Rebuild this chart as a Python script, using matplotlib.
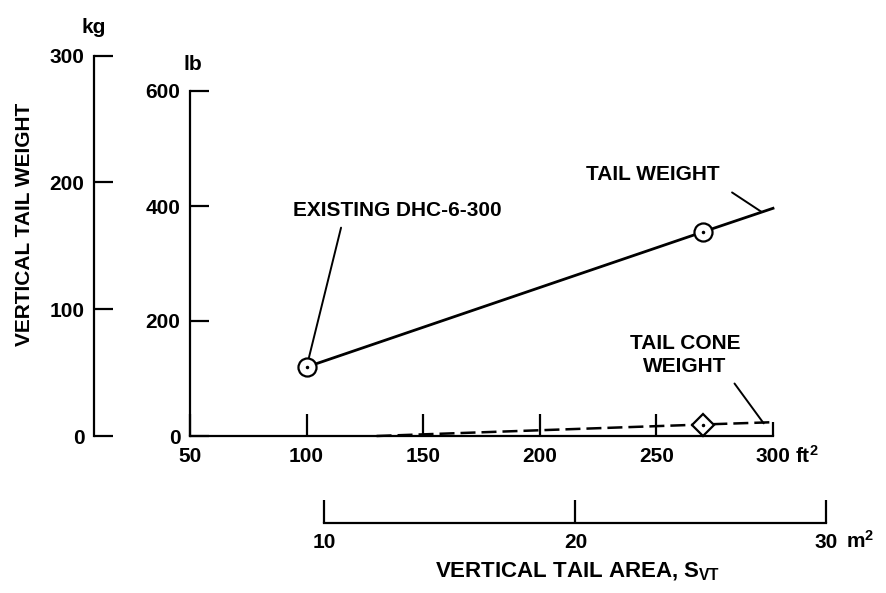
import matplotlib.pyplot as plt

plt.rcParams['font.family'] = ['Liberation Sans', 'DejaVu Sans']
plt.rcParams['font.size'] = 15
plt.rcParams['font.weight'] = 'bold'
plt.rcParams['mathtext.fontset'] = 'custom'
plt.rcParams['mathtext.rm'] = 'Liberation Sans:bold'
plt.rcParams['mathtext.it'] = 'Liberation Sans:bold'
plt.rcParams['mathtext.default'] = 'regular'

# vertical tail area (ft^2) vs weight (lb)
tail_area = [100, 270, 300]
tail_weight = [120, 355, 396]
tail_pts_area = [100, 270]
tail_pts_weight = [120, 355]

cone_area = [130, 270, 300]
cone_weight = [0, 20, 24]
cone_pts_area = [270]
cone_pts_weight = [20]

ft_ticks = [50, 100, 150, 200, 250]
lb_ticks = [0, 200, 400, 600]
kg_ticks = [0, 100, 200, 300]
m2_ticks = [10, 20, 30]

FT2_PER_M2 = 10.7639
LB_PER_KG = 2.20462

W, H = 886, 593
left, right = 190, 773      # pixel x of 50 and 300 ft^2
bottom, top = 436, 91       # pixel y of 0 and 600 lb


def fx(px):
    return px / W


def fy(py):
    return 1 - py / H


def ft_px(a):
    return left + (a - 50) / 250 * (right - left)


lw_axis = 1.6
fig = plt.figure(figsize=(8.86, 5.93), dpi=100)

# main axes (ft^2 / lb)
ax = fig.add_axes([fx(left), fy(bottom), (right - left) / W, (bottom - top) / H])
ax.set_xlim(50, 300)
ax.set_ylim(0, 600)
ax.patch.set_visible(False)
for s in ['top', 'right']:
    ax.spines[s].set_visible(False)
for s in ['left', 'bottom']:
    ax.spines[s].set_linewidth(lw_axis)
ax.set_xticks(ft_ticks)
ax.set_xticks([300], ['300'], minor=True)
ax.set_yticks(lb_ticks)
ax.tick_params(axis='x', which='major', direction='in', length=16, width=lw_axis, pad=8)
ax.tick_params(axis='x', which='minor', direction='in', length=10, width=lw_axis, pad=8,
               labelsize=15)
ax.tick_params(axis='y', direction='in', length=14, width=lw_axis, pad=7)
ax.annotate('ft$^2$', xy=(300, 0), xycoords=('data', 'axes fraction'),
            xytext=(16, -19.5), textcoords='offset points', ha='left', va='baseline')
ax.annotate('lb', xy=(0, 1), xycoords='axes fraction', xytext=(2, 19),
            textcoords='offset points', ha='center', va='center')

ax.plot(tail_area, tail_weight, color='k', lw=2, clip_on=False)
ax.plot(tail_pts_area, tail_pts_weight, 'o', ms=13, mfc='white', mec='k', mew=1.6,
        clip_on=False)
ax.plot(tail_pts_area, tail_pts_weight, '.', ms=3, color='k', clip_on=False)

ax.plot(cone_area, cone_weight, color='k', lw=1.8, ls=(0, (6, 2.4)), clip_on=False)
ax.plot(cone_pts_area, cone_pts_weight, 'D', ms=11, mfc='white', mec='k', mew=1.6,
        clip_on=False)
ax.plot(cone_pts_area, cone_pts_weight, '.', ms=3, color='k', clip_on=False)

leader = dict(arrowstyle='-', lw=1.4, color='k')
ax.annotate('EXISTING DHC-6-300', xy=(tail_pts_area[0], tail_pts_weight[0]),
            xytext=(fx(293), fy(210)), textcoords='figure fraction',
            ha='left', va='center', annotation_clip=False,
            arrowprops=dict(leader, relpos=(0.24, 0), shrinkA=4, shrinkB=7))
ax.annotate('TAIL WEIGHT', xy=(295, 390),
            xytext=(fx(720), fy(175)), textcoords='figure fraction',
            ha='right', va='center', annotation_clip=False,
            arrowprops=dict(leader, relpos=(1, 0), shrinkA=8, shrinkB=0))
ax.annotate('TAIL CONE\nWEIGHT', xy=(296, 22),
            xytext=(fx(685), fy(355)), textcoords='figure fraction',
            ha='center', va='center', multialignment='center', linespacing=1.3,
            annotation_clip=False,
            arrowprops=dict(leader, relpos=(0.9, 0), shrinkA=4, shrinkB=0))

# kg scale
kg_top = bottom - 300 * LB_PER_KG / 600 * (bottom - top)
axk = fig.add_axes([fx(94), fy(bottom), 0.0001, (bottom - kg_top) / H])
axk.set_ylim(0, 300)
axk.patch.set_visible(False)
for s in ['top', 'right', 'bottom']:
    axk.spines[s].set_visible(False)
axk.spines['left'].set_linewidth(lw_axis)
axk.set_xticks([])
axk.set_yticks(kg_ticks)
axk.tick_params(axis='y', direction='in', length=14, width=lw_axis, pad=7)
axk.annotate('kg', xy=(0, 1), xycoords='axes fraction', xytext=(0, 20),
             textcoords='offset points', ha='center', va='center')

# m^2 scale
m_left = ft_px(10 * FT2_PER_M2)
m_right = ft_px(30 * FT2_PER_M2)
axm = fig.add_axes([fx(m_left), fy(523), (m_right - m_left) / W, 0.0001])
axm.set_xlim(10, 30)
axm.patch.set_visible(False)
for s in ['top', 'right', 'left']:
    axm.spines[s].set_visible(False)
axm.spines['bottom'].set_linewidth(lw_axis)
axm.set_yticks([])
axm.set_xticks(m2_ticks)
axm.tick_params(axis='x', direction='in', length=16.5, width=lw_axis, pad=7)
axm.annotate('m$^2$', xy=(30, 0), xycoords=('data', 'axes fraction'),
             xytext=(14, -18), textcoords='offset points', ha='left', va='baseline')

fig.text(fx(25), fy(224), 'VERTICAL TAIL WEIGHT', rotation=90, ha='center', va='center')
fig.text(fx(578), fy(572), 'VERTICAL TAIL AREA, S$_{VT}$', ha='center', va='center',
         fontsize=16)

fig.savefig('out.png', dpi=100)
